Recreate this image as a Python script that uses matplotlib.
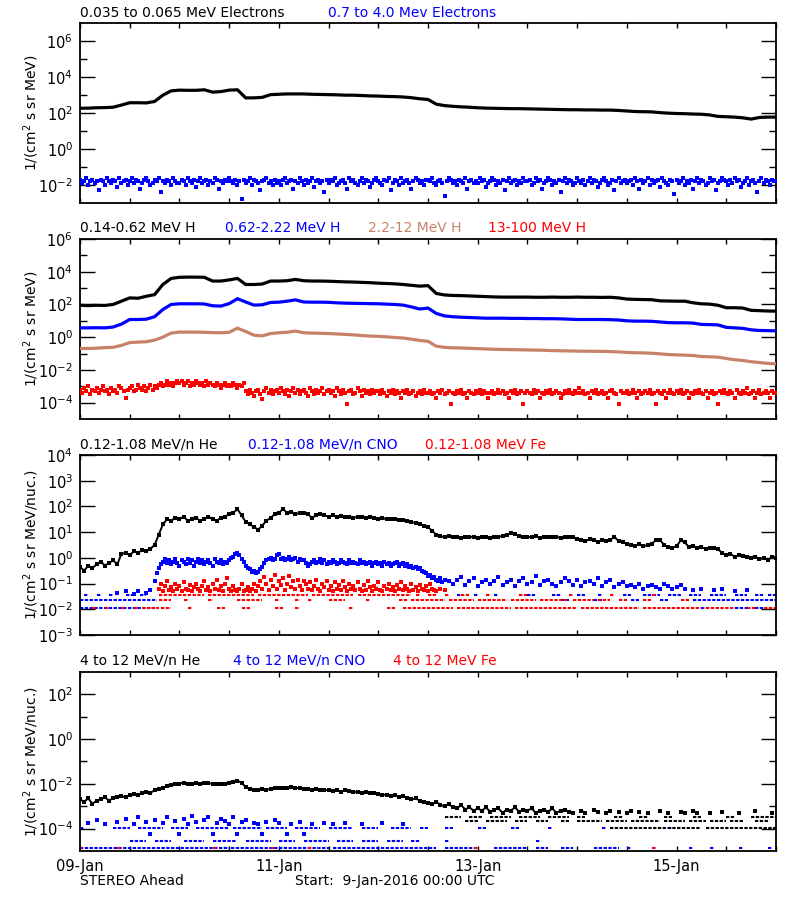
import numpy as np
import matplotlib
matplotlib.use("Agg")
import matplotlib.pyplot as plt
from matplotlib.ticker import FixedLocator, NullFormatter, LogFormatterMathtext

N = float("nan")

# ---------------- x axis (hours after 09-Jan-2016 00:00) ----------------
day_ticks = [0, 48, 96, 144]
day_labels = ["09-Jan", "11-Jan", "13-Jan", "15-Jan"]

# ---------------- panel 1 : electrons (log10 flux) ----------------
# 0.035-0.065 MeV electrons, one value every 2 h
elec_low_log = [
    2.27, 2.28, 2.30, 2.31, 2.33, 2.45, 2.58, 2.58, 2.57, 2.65, 3.00, 3.24,
    3.28, 3.27, 3.27, 3.30, 3.17, 3.20, 3.28, 3.30, 2.85, 2.85, 2.88, 3.03,
    3.05, 3.07, 3.07, 3.07, 3.05, 3.04, 3.03, 3.02, 3.00, 3.00, 2.98, 2.96,
    2.95, 2.93, 2.92, 2.90, 2.86, 2.80, 2.76, 2.50, 2.42, 2.38, 2.35, 2.33,
    2.30, 2.28, 2.27, 2.26, 2.25, 2.25, 2.24, 2.23, 2.22, 2.21, 2.20, 2.19,
    2.19, 2.18, 2.18, 2.17, 2.17, 2.15, 2.12, 2.09, 2.08, 2.07, 2.03, 2.00,
    1.98, 1.97, 1.95, 1.94, 1.90, 1.82, 1.80, 1.78, 1.74, 1.67, 1.76, 1.78,
    1.78]
# 0.7-4.0 MeV electrons, one value every 0.5 h
elec_high_log = [
    -1.7, -1.9, -1.8, -1.6, -2.0, -1.8, -1.7, -1.9, -1.8, -2.3, -1.7, -1.8, -2.0, -1.6, -1.8, -1.9, -1.7, -1.8, -2.1, -1.6, -1.9, -1.8, -1.7, -2.0,
    -1.8, -1.6, -1.9, -1.7, -1.8, -2.2, -1.9, -1.7, -1.6, -1.8, -2.0, -1.9, -1.7, -1.8, -1.6, -2.4, -1.8, -1.9, -1.7, -1.8, -2.0, -1.6, -1.8, -1.9,
    -1.9, -1.7, -1.8, -2.0, -1.6, -1.8, -1.9, -1.7, -2.1, -1.8, -1.6, -1.9, -1.8, -1.7, -2.0, -1.8, -1.9, -1.6, -1.7, -2.2, -1.8, -1.9, -1.7, -1.8,
    -1.6, -1.8, -1.9, -1.7, -2.0, -1.8, -2.8, -1.7, -1.9, -1.8, -1.6, -2.0, -1.7, -1.8, -1.9, -2.3, -1.8, -1.7, -1.6, -1.9, -1.8, -2.0, -1.7, -1.9,
    -1.8, -2.0, -1.7, -1.6, -1.9, -1.8, -1.7, -2.2, -1.8, -1.9, -1.6, -1.8, -2.0, -1.7, -1.9, -1.8, -1.6, -2.1, -1.8, -1.7, -1.9, -1.8, -2.4, -1.7,
    -1.9, -1.7, -1.8, -1.6, -2.0, -1.9, -1.8, -1.7, -1.9, -2.2, -1.6, -1.8, -1.7, -1.9, -2.0, -1.8, -1.6, -1.9, -1.7, -1.8, -2.1, -1.9, -1.7, -1.6,
    -1.8, -1.9, -2.0, -1.7, -1.8, -1.6, -2.3, -1.9, -1.7, -1.8, -2.0, -1.6, -1.9, -1.8, -1.7, -1.9, -2.2, -1.8, -1.6, -1.7, -1.9, -1.8, -2.0, -1.7,
    -1.7, -1.8, -1.6, -1.9, -2.0, -1.8, -1.7, -1.9, -2.6, -1.8, -1.6, -1.7, -1.9, -1.8, -2.0, -1.7, -1.8, -1.9, -1.6, -2.2, -1.8, -1.7, -1.9, -1.8,
    -1.9, -1.6, -1.8, -1.7, -2.1, -1.9, -1.8, -1.6, -1.7, -2.0, -1.8, -1.9, -1.7, -2.3, -1.8, -1.6, -1.9, -1.8, -1.7, -2.0, -1.8, -1.9, -1.6, -1.8,
    -1.8, -1.7, -2.0, -1.9, -1.6, -1.8, -1.7, -2.2, -1.9, -1.8, -1.6, -1.7, -2.0, -1.8, -1.9, -1.7, -2.4, -1.8, -1.6, -1.9, -1.7, -1.8, -2.0, -1.9,
    -1.6, -1.8, -1.9, -1.7, -2.0, -1.8, -1.6, -1.9, -1.7, -1.8, -2.1, -1.9, -1.7, -1.6, -1.8, -2.0, -1.9, -1.7, -2.3, -1.8, -1.6, -1.9, -1.8, -1.7,
    -1.9, -1.8, -1.7, -2.0, -1.6, -1.8, -2.2, -1.7, -1.9, -1.8, -1.6, -2.0, -1.7, -1.9, -1.8, -1.7, -2.1, -1.6, -1.8, -1.9, -2.0, -1.7, -1.8, -2.5,
    -1.7, -1.9, -1.8, -1.6, -2.0, -1.8, -1.9, -1.7, -2.2, -1.8, -1.6, -1.9, -1.7, -1.8, -2.0, -1.9, -1.6, -1.8, -1.7, -2.3, -1.9, -1.8, -1.6, -1.7,
    -1.8, -2.0, -1.7, -1.9, -1.6, -1.8, -1.7, -2.1, -1.9, -1.8, -1.6, -2.0, -1.8, -1.7, -1.9, -2.4, -1.8, -1.6, -1.9, -1.7, -1.8, -2.0, -1.7, -1.8,
    -1.8]

# ---------------- panel 2 : protons (log10 flux) ----------------
# every 2 h
h_014_062_log = [
    1.95, 1.93, 1.95, 1.94, 2.00, 2.20, 2.40, 2.38, 2.50, 2.60, 3.22, 3.59,
    3.66, 3.67, 3.67, 3.66, 3.43, 3.43, 3.50, 3.59, 3.22, 3.22, 3.25, 3.43,
    3.43, 3.45, 3.53, 3.45, 3.43, 3.43, 3.42, 3.40, 3.38, 3.37, 3.35, 3.33,
    3.30, 3.28, 3.26, 3.22, 3.17, 3.12, 3.15, 2.67, 2.58, 2.55, 2.54, 2.52,
    2.50, 2.48, 2.46, 2.45, 2.45, 2.45, 2.45, 2.44, 2.44, 2.45, 2.44, 2.44,
    2.45, 2.44, 2.44, 2.43, 2.44, 2.40, 2.33, 2.31, 2.30, 2.29, 2.22, 2.21,
    2.20, 2.20, 2.10, 2.04, 2.02, 1.95, 1.80, 1.80, 1.78, 1.64, 1.62, 1.60,
    1.59]
h_062_222_log = [
    0.57, 0.57, 0.58, 0.57, 0.62, 0.80, 1.08, 1.08, 1.10, 1.25, 1.69, 2.00,
    2.04, 2.04, 2.04, 2.03, 1.92, 1.90, 2.05, 2.35, 2.15, 1.96, 1.98, 2.12,
    2.14, 2.20, 2.28, 2.15, 2.14, 2.14, 2.13, 2.10, 2.08, 2.07, 2.06, 2.05,
    2.04, 2.02, 2.00, 1.96, 1.85, 1.72, 1.78, 1.45, 1.30, 1.25, 1.22, 1.20,
    1.18, 1.16, 1.16, 1.16, 1.15, 1.15, 1.14, 1.14, 1.13, 1.13, 1.12, 1.10,
    1.08, 1.08, 1.08, 1.08, 1.07, 1.05, 1.00, 0.98, 0.98, 0.97, 0.93, 0.89,
    0.88, 0.88, 0.86, 0.78, 0.77, 0.75, 0.60, 0.57, 0.54, 0.45, 0.41, 0.40,
    0.39]
h_22_12_log = [
    -0.69, -0.69, -0.67, -0.64, -0.62, -0.50, -0.33, -0.30, -0.28, -0.18, 0.00, 0.25,
    0.31, 0.31, 0.31, 0.30, 0.28, 0.27, 0.30, 0.55, 0.35, 0.12, 0.08, 0.22,
    0.27, 0.30, 0.37, 0.27, 0.25, 0.24, 0.22, 0.20, 0.17, 0.14, 0.10, 0.07,
    0.05, 0.02, -0.02, -0.05, -0.12, -0.20, -0.25, -0.55, -0.62, -0.65, -0.66, -0.68,
    -0.70, -0.72, -0.74, -0.75, -0.76, -0.77, -0.78, -0.79, -0.80, -0.82, -0.83, -0.84,
    -0.85, -0.86, -0.86, -0.87, -0.88, -0.90, -0.93, -0.95, -0.96, -0.98, -1.02, -1.06,
    -1.08, -1.10, -1.12, -1.18, -1.20, -1.22, -1.30, -1.38, -1.42, -1.50, -1.55, -1.60,
    -1.63]
# 13-100 MeV H, every 0.5 h
h_13_100_log = [
    -3.2, -3.4, -3.1, -3.3, -3.0, -3.5, -3.2, -3.3, -3.1, -3.4, -3.2, -3.0, -3.3, -3.2, -3.5, -3.1, -3.3, -3.2, -3.4, -3.0, -3.1, -3.3, -3.7, -3.2,
    -3.1, -3.0, -3.3, -3.2, -2.9, -3.1, -3.2, -3.0, -3.3, -3.1, -2.9, -3.2, -3.0, -3.1, -2.9, -2.8, -3.0, -2.9, -2.7, -2.9, -2.8, -3.0, -2.8, -2.7,
    -2.8, -2.7, -2.9, -2.8, -2.7, -3.0, -2.8, -2.9, -2.7, -2.8, -2.9, -2.8, -3.0, -2.7, -2.9, -2.8, -2.9, -3.0, -2.8, -2.9, -3.1, -2.9, -2.8, -3.0,
    -2.9, -3.0, -2.8, -2.9, -3.1, -2.9, -3.0, -2.8, -3.3, -3.5, -3.2, -3.4, -3.6, -3.3, -3.2, -3.5, -3.8, -3.3, -3.1, -3.4, -3.2, -3.5, -3.3, -3.2,
    -3.4, -3.1, -3.3, -3.5, -3.2, -3.6, -3.3, -3.1, -3.4, -3.2, -3.5, -3.3, -3.2, -3.4, -3.6, -3.1, -3.3, -3.5, -3.2, -3.4, -3.3, -3.1, -3.5, -3.3,
    -3.2, -3.4, -3.3, -3.6, -3.1, -3.3, -3.5, -3.2, -3.4, -4.1, -3.3, -3.2, -3.5, -3.4, -3.1, -3.3, -3.6, -3.2, -3.4, -3.3, -3.5, -3.2, -3.4, -3.3,
    -3.3, -3.5, -3.2, -3.4, -3.6, -3.3, -3.4, -3.2, -3.5, -3.3, -3.4, -3.7, -3.3, -3.4, -3.2, -3.5, -3.4, -3.3, -3.6, -3.4, -3.3, -3.5, -3.2, -3.4,
    -3.4, -3.3, -3.5, -3.4, -3.7, -3.3, -3.4, -3.2, -3.5, -3.4, -3.3, -4.1, -3.4, -3.5, -3.3, -3.4, -3.2, -3.5, -3.4, -3.7, -3.3, -3.4, -3.5, -3.3,
    -3.4, -3.2, -3.5, -3.3, -3.4, -3.7, -3.4, -3.3, -3.5, -3.4, -3.2, -3.4, -3.3, -3.5, -3.4, -3.7, -3.3, -3.4, -3.2, -3.5, -3.4, -3.3, -4.1, -3.4,
    -3.3, -3.4, -3.5, -3.2, -3.4, -3.3, -3.7, -3.4, -3.5, -3.3, -3.4, -3.2, -3.5, -3.4, -3.3, -3.4, -3.7, -3.5, -3.3, -3.4, -3.2, -3.4, -3.5, -3.3,
    -3.4, -3.1, -3.4, -3.3, -3.5, -3.4, -3.7, -3.3, -3.4, -3.2, -3.5, -3.4, -3.3, -3.5, -3.4, -3.7, -3.3, -3.2, -3.4, -3.5, -4.1, -3.3, -3.4, -3.4,
    -3.3, -3.5, -3.4, -3.2, -3.4, -3.7, -3.3, -3.5, -3.4, -3.3, -3.4, -3.2, -3.5, -3.4, -4.1, -3.3, -3.4, -3.5, -3.3, -3.7, -3.4, -3.2, -3.4, -3.5,
    -3.3, -3.4, -3.2, -3.5, -3.4, -3.3, -3.7, -3.4, -3.5, -3.3, -3.4, -3.2, -3.4, -3.5, -3.3, -3.7, -3.4, -3.3, -3.5, -3.4, -4.1, -3.3, -3.4, -3.2,
    -3.4, -3.5, -3.3, -3.4, -3.7, -3.2, -3.4, -3.5, -3.3, -3.4, -3.1, -3.5, -3.4, -3.3, -3.7, -3.4, -3.2, -3.5, -3.4, -3.3, -3.4, -3.7, -3.3, -3.4,
    -3.4]

# ---------------- panel 3 : 0.12-1.08 MeV/n heavy ions (log10 flux) ----------------
# He, every 1 h
he_low_log = [
    -0.35, -0.50, -0.30, -0.40, -0.25, -0.15, -0.30, -0.20, -0.10, -0.25, 0.15, 0.20,
    0.10, 0.25, 0.20, 0.30, 0.25, 0.35, 0.50, 0.90, 1.30, 1.50, 1.45, 1.55,
    1.50, 1.60, 1.45, 1.50, 1.55, 1.45, 1.50, 1.60, 1.50, 1.45, 1.55, 1.60,
    1.70, 1.75, 1.90, 1.65, 1.40, 1.30, 1.20, 1.10, 1.25, 1.45, 1.55, 1.70,
    1.75, 1.90, 1.75, 1.80, 1.70, 1.75, 1.75, 1.70, 1.55, 1.65, 1.70, 1.65,
    1.60, 1.65, 1.60, 1.62, 1.58, 1.60, 1.55, 1.60, 1.57, 1.55, 1.60, 1.55,
    1.52, 1.55, 1.50, 1.53, 1.50, 1.48, 1.47, 1.45, 1.40, 1.35, 1.30, 1.25,
    1.20, 1.05, 0.90, 0.85, 0.80, 0.85, 0.80, 0.82, 0.78, 0.80, 0.83, 0.80,
    0.78, 0.82, 0.80, 0.76, 0.80, 0.82, 0.85, 0.90, 0.95, 0.92, 0.85, 0.80,
    0.82, 0.80, 0.85, 0.78, 0.80, 0.83, 0.80, 0.82, 0.78, 0.80, 0.82, 0.80,
    0.72, 0.70, 0.65, 0.72, 0.68, 0.62, 0.70, 0.66, 0.70, 0.82, 0.65, 0.60,
    0.55, 0.50, 0.48, 0.52, 0.45, 0.50, 0.55, 0.68, 0.70, 0.50, 0.42, 0.40,
    0.45, 0.68, 0.60, 0.42, 0.45, 0.38, 0.42, 0.35, 0.40, 0.38, 0.35, 0.18,
    0.12, 0.15, 0.05, 0.10, 0.08, 0.05, 0.00, 0.05, -0.05, 0.00, -0.08, 0.02,
    0.00]
# CNO, every 1 h from 0 h
cno_low_pre_log = [N, N, N, N, N, N, N, N, N, -1.35, N, -1.30, N, -1.40, -1.30, N, -1.35, -1.25]
# CNO, every 0.5 h from 18 h
cno_low_early_log = [
    -0.9, -0.6, -0.4, -0.25, -0.15, -0.05, -0.2, -0.1, -0.25, -0.15, -0.05, -0.2, -0.3, -0.1, -0.15, -0.25, -0.05, -0.2, -0.1, -0.3, -0.15, -0.05, -0.2, -0.1,
    -0.25, -0.15, -0.1, -0.2, -0.3, -0.05, -0.15, -0.2, -0.1, -0.25, -0.15, -0.2, -0.1, 0.0, 0.05, 0.15, 0.2, 0.1, -0.05, -0.15, -0.3, -0.4, -0.45, -0.55,
    -0.5, -0.6, -0.55, -0.45, -0.35, -0.2, -0.1, -0.05, 0.0, -0.1, -0.05, 0.1, 0.15, -0.05, 0.0, -0.1, -0.05, 0.05, -0.1, -0.05, 0.0, -0.15, -0.05, -0.1,
    -0.1, -0.2, -0.3, -0.25, -0.15, -0.1, -0.2, -0.15, -0.05, -0.2, -0.1, -0.25, -0.15, -0.2, -0.1, -0.15, -0.25, -0.2, -0.1, -0.15, -0.2, -0.25, -0.1, -0.2,
    -0.15, -0.2, -0.25, -0.1, -0.2, -0.15, -0.25, -0.2, -0.15, -0.3, -0.2, -0.15, -0.25, -0.2, -0.3, -0.15, -0.25, -0.2, -0.3, -0.25, -0.2, -0.15, -0.3, -0.25,
    -0.2, -0.3, -0.25, -0.35, -0.3, -0.4, -0.35, -0.45, -0.4, -0.5, -0.55, -0.6, -0.7, -0.65, -0.8, -0.75, -0.85, -0.9, -0.8, -0.95, -0.85]
# CNO, every 1 h from 89 h
cno_low_late_log = [
    -0.9, -1.0, -0.85, -0.75, -1.05, -0.9, -0.8, -1.1, -0.95, -0.85, -1.0, -0.9,
    -0.75, -1.05, -0.95, -0.85, -1.1, -0.9, -0.8, -1.0, -0.95, -0.7, -1.05, -0.9,
    -0.85, -1.0, -1.1, -0.95, -0.8, -0.9, -1.05, -0.85, -1.1, -0.95, -0.9, -1.0,
    -0.8, -1.1, -0.95, -0.85, -1.15, -1.0, -0.95, -1.1, -1.05, -1.15, -1.0, -1.2,
    -1.1, -1.05, -1.15, -1.2, -1.0, -1.1, -1.2, -1.15, -1.05, -1.2, N, -1.25,
    N, -1.2, N, N, -1.25, N, -1.2, N, N, -1.3, N, N,
    -1.25, N, N, N, N, N, N, N]
# Fe, every 0.5 h from 19 h
fe_low_log = [
    -1.2, -1.0, -1.3, -1.1, -0.9, -1.25, -1.15, -1.3, -1.0, -1.2, -1.1, -1.3, -0.95, -1.2, -1.25, -1.05, -1.3, -1.15, -1.0, -1.2, -1.3, -1.1, -0.9, -1.25,
    -1.15, -1.3, -1.0, -1.2, -0.85, -1.25, -1.1, -1.3, -1.0, -0.8, -1.2, -1.3, -1.1, -1.25, -1.3, -1.2, -1.0, -1.3, -1.25, -1.15, -1.3, -1.2, -1.0, -1.3,
    -1.1, -0.9, -1.2, -0.75, -1.0, -1.25, -0.85, -1.1, -0.65, -1.2, -0.9, -1.05, -0.8, -1.25, -1.0, -0.7, -1.15, -0.9, -1.2, -0.85, -1.1, -1.25, -0.9, -1.0,
    -1.2, -0.95, -1.25, -1.1, -0.85, -1.2, -1.3, -1.0, -1.15, -0.9, -1.25, -1.1, -1.3, -0.95, -1.2, -1.05, -1.25, -0.9, -1.15, -1.3, -1.0, -1.2, -1.1, -1.25,
    -0.95, -1.2, -1.3, -1.05, -1.25, -0.9, -1.15, -1.3, -1.1, -1.2, -0.95, -1.25, -1.3, -1.1, -1.2, -1.0, -1.25, -1.15, -1.3, -1.05, -1.2, -0.95, -1.25, -1.1,
    -1.2, -1.3, -1.0, -1.25, -1.15, -1.3, -1.05, -1.2, -1.25, -1.1, -1.3, -1.0, -1.2, -1.25, -1.3, N, -1.2, N, -1.25]
# one-count levels (log10) and the time spans (h) where points sit on them
low_levels = [-1.45, -1.63, -1.94]
cno_low_rows = [
    [(1, 2), (4, 5), (7, 8), (11, 13), (14.5, 16), (91, 92), (95, 96), (100, 101), (108, 110), (114, 116),
     (120, 122), (125, 126), (131, 133), (136, 140), (142, 145), (147, 150), (152, 156), (158, 161),
     (163, 165), (166, 168)],
    [(0, 18.5), (116, 118), (124, 126), (133, 135), (140, 142), (148, 168)],
    [(0, 19), (150, 151), (158, 161), (163, 165)],
]
fe_low_rows = [
    [(19, 30), (31, 42), (43, 55), (56, 66), (67, 80), (81, 82), (84, 86), (88, 89), (92, 94), (98, 99),
     (106, 108), (118, 119), (128, 129), (138, 139)],
    [(19, 22), (25, 26), (31, 32), (38, 44), (47, 48), (52, 53), (55, 56), (60, 64), (69, 70), (77, 79),
     (80, 88), (89, 95), (96, 103), (104, 110), (111, 118), (119, 124), (125, 128), (130, 132),
     (136, 138), (145, 147)],
    [(3, 4), (6, 7), (10, 11), (13, 14), (15, 19), (19.5, 22), (26, 27), (33, 35), (39, 41), (47, 49),
     (52, 53), (65, 66), (74, 76), (78, 90), (91, 104), (105, 120), (121, 135), (136, 150), (151, 158),
     (161, 163), (165, 168)],
]

# ---------------- panel 4 : 4-12 MeV/n heavy ions (log10 flux) ----------------
# He, every 1 h
he_high_log = [
    -2.70, -2.80, -2.65, -2.90, -2.75, -2.70, -2.60, -2.75, -2.65, -2.60, -2.55, -2.60,
    -2.50, -2.45, -2.50, -2.40, -2.35, -2.40, -2.30, -2.25, -2.20, -2.10, -2.05, -2.00,
    -2.00, -1.95, -2.00, -2.02, -1.97, -2.00, -1.95, -1.98, -2.00, -2.03, -2.00, -2.02,
    -1.98, -1.92, -1.87, -1.95, -2.15, -2.25, -2.27, -2.30, -2.25, -2.28, -2.22, -2.18,
    -2.20, -2.17, -2.20, -2.15, -2.18, -2.20, -2.25, -2.22, -2.28, -2.25, -2.30, -2.27,
    -2.30, -2.32, -2.28, -2.35, -2.30, -2.33, -2.38, -2.35, -2.40, -2.36, -2.42, -2.40,
    -2.45, -2.50, -2.48, -2.55, -2.50, -2.60, -2.55, -2.62, -2.70, -2.65, -2.75, -2.80,
    -2.85, -2.90, -2.80, -2.95, -3.00, -2.90, -3.05, -3.10, -2.95, -3.15, -3.05, -3.20,
    -3.10, -3.20, -3.05, -3.25, -3.15, -3.10, -3.30, -3.15, -3.20, -3.05, -3.25, -3.15,
    -3.20, -3.10, -3.30, -3.20, -3.15, -3.25, -3.10, -3.30, -3.20, -3.15, -3.25, -3.30,
    N, -3.20, -3.30, N, -3.15, -3.25, N, -3.30, -3.20, N, -3.25, N,
    -3.30, -3.20, N, -3.25, N, -3.30, N, N, -3.20, N, -3.30, N,
    N, -3.25, -3.30, N, -3.20, -3.30, N, N, -3.30, N, N, -3.25,
    N, N, N, -3.30, N, N, N, -3.20, N, N, N, -3.30,
    N]
he_high_levels = [-3.49, -3.67, -3.96]
he_high_rows = [
    [(88, 92), (94, 97), (99, 104), (106, 111), (113, 118), (120, 122), (129, 131), (135, 137), (141, 143),
     (148, 150), (156, 158), (162, 168)],
    [(93, 96), (98, 103), (105, 108), (110, 113), (116, 118), (120, 126), (127, 132), (133, 140),
     (141, 146), (147, 151), (152, 156), (157, 160), (163, 166)],
    [(128, 150), (151, 168)],
]
# CNO, scattered points every 1 h from 0 h
cno_high_log = [
    N, N, -3.75, N, -3.6, N, -3.8, N, N, -3.7, N, -3.55,
    N, -3.8, -3.5, N, -3.7, -4.25, -3.6, N, -3.75, -3.5, N, -3.65,
    -4.25, -3.55, -3.8, -3.45, -3.7, N, -3.6, -3.5, -4.25, -3.75, -3.55, -3.65,
    -3.8, -3.5, -4.25, -3.7, -3.6, N, -3.75, -3.8, -4.25, -3.7, N, -3.6,
    -3.75, N, -4.25, -3.8, N, -3.7, -4.25, N, -3.8, N, N, -3.75,
    N, -3.8, N, N, -3.75, N, N, N, -3.8, N, N, N,
    N, -3.75, N, N, N, N, -3.8, N, N]
cno_high_levels = [-3.96, -4.56, -4.88]
cno_high_rows = [
    [(0, 1), (8, 12), (14, 20), (22, 26), (28, 36), (37, 44), (45, 50), (52, 58), (60, 66), (68, 72),
     (75, 80), (82, 84), (88, 90), (96, 98), (104, 106), (113, 114), (126, 127), (142, 143)],
    [(12, 16), (18, 22), (25, 30), (32, 38), (40, 46), (48, 52), (54, 60), (62, 66), (68, 72), (74, 78),
     (80, 82), (88, 89), (110, 111)],
    [(0, 36), (36.5, 60), (61, 86), (88, 96), (100, 108), (110, 113), (116, 119), (124, 130), (132, 133),
     (138, 139), (147, 148), (152, 153), (159, 160), (166, 167)],
]
fe_high_level = -4.88
fe_high_rows = [(0, 0.6), (9, 10), (32, 33), (46, 47), (55, 56), (95, 96), (138, 139)]

# ---------------- titles ----------------
BLACK, BLUE, TAN, RED = "#000000", "#0000FF", "#C8826A", "#FF0000"
titles = [
    [("0.035 to 0.065 MeV Electrons", BLACK, 80), ("0.7 to 4.0 Mev Electrons", BLUE, 328)],
    [("0.14-0.62 MeV H", BLACK, 80), ("0.62-2.22 MeV H", BLUE, 225), ("2.2-12 MeV H", TAN, 368),
     ("13-100 MeV H", RED, 488)],
    [("0.12-1.08 MeV/n He", BLACK, 80), ("0.12-1.08 MeV/n CNO", BLUE, 248), ("0.12-1.08 MeV Fe", RED, 425)],
    [("4 to 12 MeV/n He", BLACK, 80), ("4 to 12 MeV/n CNO", BLUE, 233), ("4 to 12 MeV Fe", RED, 393)],
]
ylabels = ["1/(cm$^2$ s sr MeV)", "1/(cm$^2$ s sr MeV)",
           "1/(cm$^2$ s sr MeV/nuc.)", "1/(cm$^2$ s sr MeV/nuc.)"]

# ---------------- drawing ----------------
plt.rcParams["font.family"] = ["DejaVu Sans"]
plt.rcParams["mathtext.default"] = "regular"
W, H = 800, 900
fig = plt.figure(figsize=(8, 9), dpi=100)
fig.patch.set_facecolor("white")

boxes = [(23.3, 203.0), (239.0, 419.0), (455.0, 635.0), (671.7, 851.0)]
title_y = [13, 228, 445, 661]
ylims = [(1e-3, 1e7), (1e-5, 1e6), (1e-3, 1e4), (1e-5, 1e3)]
majors = [[-2, 0, 2, 4, 6], [-4, -2, 0, 2, 4, 6], [-3, -2, -1, 0, 1, 2, 3, 4], [-4, -2, 0, 2]]
minors = [[-1, 1, 3, 5], [-3, -1, 1, 3, 5], [], [-3, -1, 1]]


def tvals(vals, step, t0=0.0):
    return t0 + step * np.arange(len(vals))


def line(ax, vals, step, color, lw=2.3):
    ax.plot(tvals(vals, step), 10 ** np.asarray(vals, float), color=color, lw=lw,
            solid_joinstyle="miter", zorder=3)


def dots(ax, vals, step, color, t0=0.0, ms=2.6, join=0.0):
    t = tvals(vals, step, t0)
    y = 10 ** np.asarray(vals, float)
    if join > 0:
        ax.plot(t, y, color=color, lw=join, zorder=3)
    ax.plot(t, y, ls="none", marker="s", ms=ms, mew=0, color=color, zorder=3)


def rows(ax, level, segs, color):
    for a, b in segs:
        ax.plot([a, b], [10 ** level, 10 ** level], color=color, lw=1.5,
                ls=(0, (1.6, 0.7)), dash_capstyle="butt", zorder=2)


axes = []
for i, (top, bot) in enumerate(boxes):
    ax = fig.add_axes([80 / W, 1 - bot / H, 696 / W, (bot - top) / H])
    ax.set_yscale("log")
    ax.set_xlim(0, 168)
    ax.set_ylim(*ylims[i])
    ax.yaxis.set_major_locator(FixedLocator([10.0 ** e for e in majors[i]]))
    ax.yaxis.set_minor_locator(FixedLocator([10.0 ** e for e in minors[i]]))
    ax.yaxis.set_major_formatter(LogFormatterMathtext())
    ax.yaxis.set_minor_formatter(NullFormatter())
    ax.tick_params(axis="y", which="major", direction="in", length=11, width=1.0,
                   left=True, right=True, labelsize=10.5, pad=5)
    ax.tick_params(axis="y", which="minor", direction="in", length=5, width=1.0,
                   left=True, right=True)
    ax.set_xticks(np.arange(0, 169, 12))
    ax.xaxis.set_minor_locator(FixedLocator([]))
    ax.tick_params(axis="x", which="major", direction="in", length=3.8, width=1.0,
                   top=True, bottom=True, labelsize=10.5, pad=6)
    if i == 3:
        labs = [day_labels[day_ticks.index(t)] if t in day_ticks else "" for t in range(0, 169, 12)]
        ax.set_xticklabels(labs)
    else:
        ax.set_xticklabels([])
    for s in ax.spines.values():
        s.set_linewidth(1.3)
    ax.set_ylabel(ylabels[i], fontsize=10)
    ax.yaxis.set_label_coords(-0.056, 0.5)
    for txt, col, x in titles[i]:
        fig.text(x / W, 1 - title_y[i] / H, txt, color=col, fontsize=10, ha="left", va="center")
    axes.append(ax)

ax1, ax2, ax3, ax4 = axes

# panel 1
line(ax1, elec_low_log, 2, BLACK)
dots(ax1, elec_high_log, 0.5, BLUE, ms=2.8)

# panel 2
line(ax2, h_014_062_log, 2, BLACK)
line(ax2, h_062_222_log, 2, BLUE)
line(ax2, h_22_12_log, 2, TAN)
dots(ax2, h_13_100_log, 0.5, RED, ms=2.8)

# panel 3
for lev, segs in zip(low_levels, cno_low_rows):
    rows(ax3, lev, segs, BLUE)
for lev, segs in zip(low_levels, fe_low_rows):
    rows(ax3, lev, segs, RED)
dots(ax3, he_low_log, 1, BLACK, ms=2.8, join=1.4)
dots(ax3, cno_low_pre_log, 1, BLUE, ms=2.8)
dots(ax3, cno_low_early_log, 0.5, BLUE, t0=18, ms=2.8)
dots(ax3, cno_low_late_log, 1, BLUE, t0=89, ms=2.8)
dots(ax3, fe_low_log, 0.5, RED, t0=19, ms=2.8)

# panel 4
for lev, segs in zip(cno_high_levels, cno_high_rows):
    rows(ax4, lev, segs, BLUE)
rows(ax4, fe_high_level, fe_high_rows, RED)
for lev, segs in zip(he_high_levels, he_high_rows):
    rows(ax4, lev, segs, BLACK)
dots(ax4, cno_high_log, 1, BLUE, ms=2.6)
dots(ax4, he_high_log, 1, BLACK, ms=2.8, join=1.4)

fig.text(80 / W, 1 - 881 / H, "STEREO Ahead", fontsize=10, ha="left", va="center")
fig.text(295 / W, 1 - 881 / H, "Start:  9-Jan-2016 00:00 UTC", fontsize=10, ha="left", va="center")

fig.savefig("out.png", dpi=100, facecolor="white")
